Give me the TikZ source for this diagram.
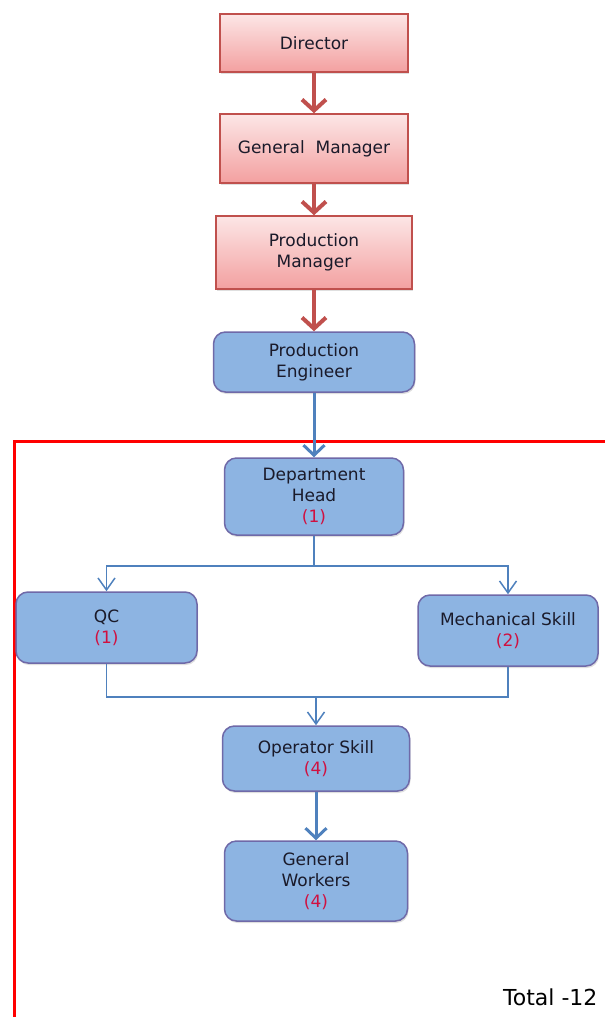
\documentclass[tikz,border=0pt]{standalone}
\usepackage{fontspec}
\setmainfont{DejaVu Sans}
\usetikzlibrary{arrows.meta, positioning, calc, shadows}

\definecolor{pinkline}{HTML}{C0504D}
\definecolor{pinktop}{HTML}{FCE6E6}
\definecolor{pinkbot}{HTML}{F3A0A0}
\definecolor{bluefill}{HTML}{8DB4E2}
\definecolor{blueline}{HTML}{6F69A8}
\definecolor{bluearrow}{HTML}{4F81BD}
\definecolor{countred}{HTML}{D01040}
\definecolor{boxtext}{HTML}{1A1A2A}

\tikzset{
    pinkbox/.style={draw=pinkline, line width=1.5pt, top color=pinktop, bottom color=pinkbot,
        align=center, font=\fontsize{17}{21}\selectfont, text=boxtext, inner sep=2pt,
        drop shadow={opacity=0.25, shadow xshift=1pt, shadow yshift=-2pt}},
    bluebox/.style={draw=blueline, line width=1.5pt, fill=bluefill, rounded corners=12pt,
        align=center, font=\fontsize{17}{21}\selectfont, text=boxtext, inner sep=2pt,
        drop shadow={opacity=0.25, shadow xshift=1pt, shadow yshift=-2pt}},
    redarrow/.style={draw=pinkline, line width=4pt, -{Straight Barb[length=11pt,width=24pt]}},
    bluethick/.style={draw=bluearrow, line width=3pt, -{Straight Barb[length=10pt,width=21pt]}},
    bluethin/.style={draw=bluearrow, line width=1.5pt},
    bluetip/.style={-{Straight Barb[length=12pt,width=17pt]}}
}

\begin{document}
\begin{tikzpicture}[x=1pt,y=-1pt]
        \useasboundingbox (0,0) rectangle (605,1017);

        % 1. Red frame
        \draw[red, line width=3pt] (14,1017) -- (14,441) -- (605,441);

        % 2. Management boxes
        \node[pinkbox, minimum width=188pt, minimum height=58pt] (dir) at (314,43) {Director};
        \node[pinkbox, minimum width=188pt, minimum height=69pt] (gm) at (314,148.5) {General\ \ Manager};
        \node[pinkbox, minimum width=196pt, minimum height=73pt] (pm) at (314,252.5) {Production\\Manager};
        \node[bluebox, minimum width=201pt, minimum height=60pt] (pe) at (314,362) {Production\\Engineer};

        % 3. Department boxes
        \node[bluebox, minimum width=179pt, minimum height=77pt] (dh) at (314,496.5) {Department\\Head\\{\color{countred}(1)}};
        \node[bluebox, minimum width=181pt, minimum height=71pt] (qc) at (106.5,627.5) {QC\\{\color{countred}(1)}};
        \node[bluebox, minimum width=180pt, minimum height=71pt] (mech) at (508,630.5) {Mechanical Skill\\{\color{countred}(2)}};
        \node[bluebox, minimum width=187pt, minimum height=65pt] (op) at (316,758.5) {Operator Skill\\{\color{countred}(4)}};
        \node[bluebox, minimum width=183pt, minimum height=80pt] (gw) at (316,881) {General\\Workers\\{\color{countred}(4)}};

        % 4. Split and join points
        \coordinate (split) at (314,566);
        \coordinate (join) at (316,697);

        % 5. Red arrows
        \draw[redarrow] (dir) -- (gm);
        \draw[redarrow] (gm) -- (pm);
        \draw[redarrow] (pm) -- (pe);

        % 6. Blue arrows
        \draw[bluethick] (pe) -- (dh);
        \draw[bluethin] (dh) -- (split);
        \draw[bluethin, bluetip] (split) -| (qc.north);
        \draw[bluethin, bluetip] (split) -| (mech.north);
        \draw[bluethin] (qc) |- (join);
        \draw[bluethin] (mech) |- (join);
        \draw[bluethin, bluetip] (join) -- (op);
        \draw[bluethick] (op) -- (gw);

        % 7. Total
        \node[anchor=east, font=\fontsize{22}{26}\selectfont] (total) at (601,997) {Total -12};
    \end{tikzpicture}
\end{document}
